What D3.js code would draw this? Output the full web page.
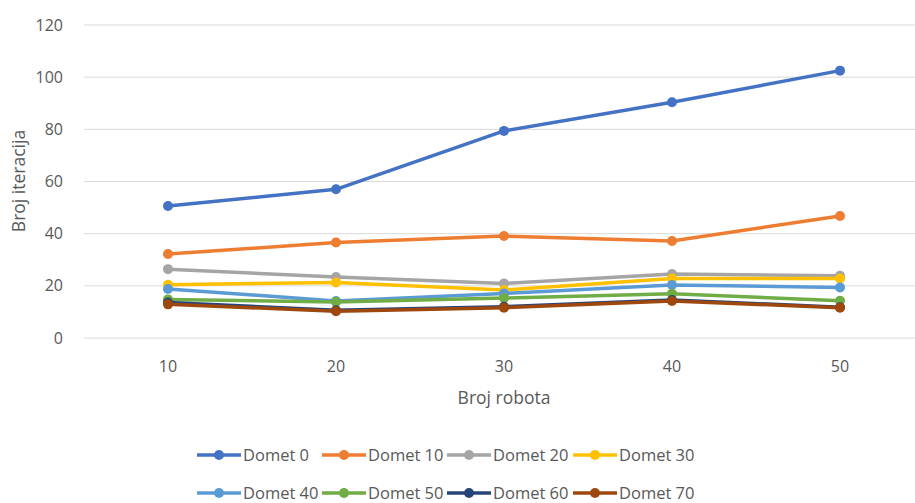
<!DOCTYPE html>
<html>
<head>
<meta charset="utf-8">
<script src="https://cdnjs.cloudflare.com/ajax/libs/d3/7.8.5/d3.min.js"></script>
<style>
  body { margin: 0; background: #fff; }
  svg { display: block; font-family: "Open Sans", sans-serif; }
</style>
</head>
<body>
<svg id="chart"></svg>
<script>
// x categories (Broj robota)
const robots = [10, 20, 30, 40, 50];
const yTicks = [0, 20, 40, 60, 80, 100, 120];

// one array per series (Domet)
const domet0 = [50.6, 57.0, 79.4, 90.4, 102.5];
const domet10 = [32.2, 36.6, 39.1, 37.2, 46.8];
const domet20 = [26.4, 23.4, 20.9, 24.5, 23.9];
const domet30 = [20.4, 21.3, 18.4, 22.8, 22.8];
const domet40 = [18.8, 14.2, 17.1, 20.3, 19.4];
const domet50 = [14.8, 13.8, 15.3, 17.0, 14.3];
const domet60 = [13.6, 10.6, 12.0, 14.6, 11.8];
const domet70 = [12.9, 10.3, 11.6, 14.2, 11.6];

const seriesNames = ["Domet 0", "Domet 10", "Domet 20", "Domet 30",
                     "Domet 40", "Domet 50", "Domet 60", "Domet 70"];
const seriesColors = ["#4472C4", "#ED7D31", "#A5A5A5", "#FFC000",
                      "#5B9BD5", "#70AD47", "#264478", "#9E480E"];

const series = [domet0, domet10, domet20, domet30, domet40, domet50, domet60, domet70]
    .map((values, i) => ({ name: seriesNames[i], color: seriesColors[i], values }));

const width = 915, height = 503;
const plot = { left: 84, right: 924, top: 25, bottom: 338 };

const svg = d3.select("#chart").attr("width", width).attr("height", height);

const x = d3.scaleBand().domain(robots).range([plot.left, plot.right]);
const y = d3.scaleLinear().domain([0, 120]).range([plot.bottom, plot.top]);

// gridlines
svg.append("g")
    .selectAll("line")
    .data(yTicks)
    .enter()
    .append("line")
    .attr("x1", plot.left)
    .attr("x2", width)
    .attr("y1", d => y(d))
    .attr("y2", d => y(d))
    .attr("stroke", "#d9d9d9")
    .attr("stroke-width", 1);

// y tick labels
svg.append("g")
    .selectAll("text")
    .data(yTicks)
    .enter()
    .append("text")
    .attr("x", 63)
    .attr("y", d => y(d))
    .attr("dy", "0.35em")
    .attr("text-anchor", "end")
    .attr("fill", "#595959")
    .style("font-size", "16px")
    .text(d => d);

// x tick labels
svg.append("g")
    .selectAll("text")
    .data(robots)
    .enter()
    .append("text")
    .attr("x", d => x(d) + x.bandwidth() / 2)
    .attr("y", 372)
    .attr("text-anchor", "middle")
    .attr("fill", "#595959")
    .style("font-size", "16px")
    .text(d => d);

// axis titles
svg.append("text")
    .attr("x", 504)
    .attr("y", 404)
    .attr("text-anchor", "middle")
    .attr("fill", "#595959")
    .style("font-size", "17.5px")
    .text("Broj robota");

svg.append("text")
    .attr("transform", "translate(25, 181) rotate(-90)")
    .attr("text-anchor", "middle")
    .attr("fill", "#595959")
    .style("font-size", "17.5px")
    .text("Broj iteracija");

const cx = (d, i) => x(robots[i]) + x.bandwidth() / 2;

const line = d3.line()
    .x(cx)
    .y(d => y(d));

// lines and markers, later series on top
const groups = svg.append("g")
    .selectAll("g")
    .data(series)
    .enter()
    .append("g");

groups.append("path")
    .attr("d", d => line(d.values))
    .attr("fill", "none")
    .attr("stroke", d => d.color)
    .attr("stroke-width", 3.5)
    .attr("stroke-linejoin", "round");

groups.each(function (s) {
    d3.select(this).selectAll("circle")
        .data(s.values)
        .enter()
        .append("circle")
        .attr("cx", cx)
        .attr("cy", d => y(d))
        .attr("r", 5)
        .attr("fill", s.color);
});

// legend, two rows of four
const legendX = [197, 322, 447, 573];
const legendY = [455, 493];

const legend = svg.append("g")
    .selectAll("g")
    .data(series)
    .enter()
    .append("g")
    .attr("transform", (d, i) => `translate(${legendX[i % 4]}, ${legendY[Math.floor(i / 4)]})`);

legend.append("line")
    .attr("x1", 0)
    .attr("x2", 44)
    .attr("stroke", d => d.color)
    .attr("stroke-width", 3.5);

legend.append("circle")
    .attr("cx", 22)
    .attr("r", 5)
    .attr("fill", d => d.color);

legend.append("text")
    .attr("x", 46)
    .attr("dy", "0.35em")
    .attr("fill", "#595959")
    .style("font-size", "16.5px")
    .text(d => d.name);
</script>
</body>
</html>
